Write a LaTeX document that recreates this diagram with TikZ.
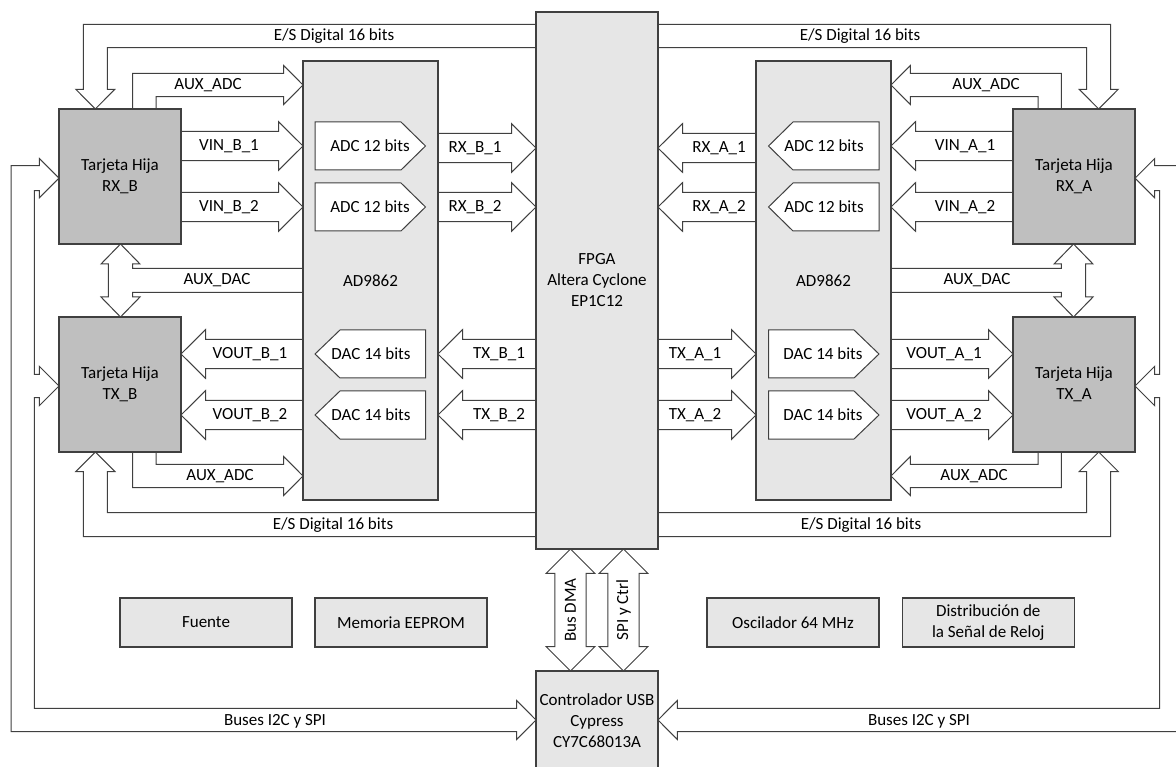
\documentclass[tikz,border=0pt]{standalone}
\usepackage{fontspec}
\setmainfont{Carlito}
\definecolor{lg}{HTML}{E6E6E6}
\definecolor{dg}{HTML}{BFBFBF}
\definecolor{ln}{HTML}{404040}
\newcommand\fsz{\fontsize{17}{21}\selectfont}
\tikzset{
 arr/.style={draw=ln, fill=white, line width=1pt, line join=miter},
 box/.style={draw=ln, line width=1.1pt, fill=lg, inner sep=0pt, align=center, font=\fsz},
 dbox/.style={box, fill=dg, minimum width=122pt, minimum height=135pt},
 pent/.style={draw=ln, fill=white, line width=1pt},
 lbl/.style={inner sep=0pt, font=\fsz, align=center},
}
% horizontal block arrow: tail x, tip x, centre y, head base x
\newcommand\HA[4]{%
 \filldraw[arr] (#1,#3-14.7) -- (#4,#3-14.7) -- (#4,#3-24.3) -- (#2,#3) -- (#4,#3+24.3) -- (#4,#3+14.7) -- (#1,#3+14.7);}
\newcommand\halfside[1]{%
 % E/S Digital top
 \filldraw[arr] (536,24.3) -- (83.3,24.3) -- (83.3,89.3) -- (75.8,89.3) -- (95.3,109) -- (114.8,89.3) -- (107.3,89.3) -- (107.3,47.7) -- (536,47.7);
 \node[lbl] (esT#1) at (334,36) {E/S Digital 16 bits};
 % E/S Digital bottom
 \filldraw[arr] (536,536.7) -- (83.3,536.7) -- (83.3,471.5) -- (75.8,471.5) -- (95.3,452) -- (114.8,471.5) -- (107.3,471.5) -- (107.3,512.7) -- (536,512.7);
 \node[lbl] (esB#1) at (333,525) {E/S Digital 16 bits};
 % AUX_ADC top
 \filldraw[arr] (132.7,109) -- (132.7,73.3) -- (283.7,73.3) -- (283.7,65.5) -- (303,85) -- (283.7,104.5) -- (283.7,96.7) -- (156,96.7) -- (156,109);
 \node[lbl] (auxT#1) at (208,85) {AUX\_ADC};
 % AUX_ADC bottom
 \filldraw[arr] (132.7,452) -- (132.7,487.7) -- (283.7,487.7) -- (283.7,495.5) -- (303,476) -- (283.7,456.5) -- (283.7,464.3) -- (156,464.3) -- (156,452);
 \node[lbl] (auxB#1) at (220,476) {AUX\_ADC};
 % AUX_DAC
 \filldraw[arr] (303,268.3) -- (132.7,268.3) -- (132.7,264) -- (140,264) -- (120.5,244) -- (101,264) -- (108.3,264) -- (108.3,297) -- (101,297) -- (120.5,317) -- (140,297) -- (132.7,297) -- (132.7,292.3) -- (303,292.3);
 \node[lbl] (auxD#1) at (217,280.5) {AUX\_DAC};
 % Buses I2C y SPI
 \filldraw[arr] (11,165.7) -- (39.3,165.7) -- (39.3,158.5) -- (59,178.2) -- (39.3,197.9) -- (39.3,190.7) -- (34.3,190.7) -- (34.3,374.3) -- (39.3,374.3) -- (39.3,366.3) -- (59,386) -- (39.3,405.7) -- (39.3,397.7) -- (34.3,397.7) -- (34.3,708.3) -- (516.7,708.3) -- (516.7,700.5) -- (536,720) -- (516.7,739.5) -- (516.7,731.7) -- (11,731.7) -- cycle;
 \node[lbl] (i2c#1) at (275,721) {Buses I2C y SPI};
 % data arrows
 \HA{181}{303}{146}{278.5}
 \HA{181}{303}{207}{278.5}
 \HA{438}{536}{148}{511.5}
 \HA{438}{536}{207}{511.5}
 \HA{536}{438}{354}{462.5}
 \HA{536}{438}{415}{462.5}
 \HA{303}{181}{354}{205.5}
 \HA{303}{181}{415}{205.5}
 \node[lbl] (vin1#1) at (229,146) {VIN\_#1\_1};
 \node[lbl] (vin2#1) at (229,207) {VIN\_#1\_2};
 \node[lbl] (rx1#1) at (475,148) {RX\_#1\_1};
 \node[lbl] (rx2#1) at (475,207) {RX\_#1\_2};
 \node[lbl] (tx1#1) at (499,354) {TX\_#1\_1};
 \node[lbl] (tx2#1) at (499,415) {TX\_#1\_2};
 \node[lbl] (vout1#1) at (250,354) {VOUT\_#1\_1};
 \node[lbl] (vout2#1) at (250,415) {VOUT\_#1\_2};
 % boxes
 \node[dbox] (RX#1) at (120,176.5) {Tarjeta Hija\\RX\_#1};
 \node[dbox] (TX#1) at (120,384.5) {Tarjeta Hija\\TX\_#1};
 \node[box, minimum width=135pt, minimum height=439pt] (AD#1) at (370.5,280.5) {AD9862};
 % ADC / DAC
 \filldraw[pent] (315,122) -- (401,122) -- (425.5,146) -- (401,170) -- (315,170) -- cycle;
 \filldraw[pent] (315,183) -- (401,183) -- (425.5,207) -- (401,231) -- (315,231) -- cycle;
 \filldraw[pent] (425.5,330) -- (340,330) -- (315,354) -- (340,378) -- (425.5,378) -- cycle;
 \filldraw[pent] (425.5,391) -- (340,391) -- (315,415) -- (340,439) -- (425.5,439) -- cycle;
 \node[lbl] (adc1#1) at (370,146) {ADC 12 bits};
 \node[lbl] (adc2#1) at (370,207) {ADC 12 bits};
 \node[lbl] (dac1#1) at (371,354) {DAC 14 bits};
 \node[lbl] (dac2#1) at (371,415) {DAC 14 bits};
}
\begin{document}
\begin{tikzpicture}[x=1pt,y=-1pt]
\useasboundingbox (0,0) rectangle (1176,767);
\clip (0,0) rectangle (1176,767);
\fill[white] (0,0) rectangle (1176,767);
\halfside{B}
\begin{scope}[shift={(1194,0)},xscale=-1]
\halfside{A}
\end{scope}
% Bus DMA and SPI y Ctrl
\filldraw[arr] (554.8,573.3) -- (546.2,573.3) -- (570.5,549) -- (594.8,573.3) -- (586.2,573.3) -- (586.2,646.7) -- (594.8,646.7) -- (570.5,671) -- (546.2,646.7) -- (554.8,646.7) -- cycle;
\filldraw[arr] (607.8,573.3) -- (599.2,573.3) -- (623.5,549) -- (647.8,573.3) -- (639.2,573.3) -- (639.2,646.7) -- (647.8,646.7) -- (623.5,671) -- (599.2,646.7) -- (607.8,646.7) -- cycle;
\node[lbl, rotate=90] (dma) at (570.5,610) {Bus DMA};
\node[lbl, rotate=90] (spi) at (623.5,610) {SPI y Ctrl};
% central boxes
\node[box, minimum width=122pt, minimum height=537pt] (FPGA) at (597,280.5) {FPGA\\Altera Cyclone\\EP1C12};
\node[box, minimum width=122pt, minimum height=100pt] (USB) at (597,721) {Controlador USB\\Cypress\\CY7C68013A};
\node[box, minimum width=172pt, minimum height=49pt] (fuente) at (206,622.5) {Fuente};
\node[box, minimum width=172pt, minimum height=49pt] (eeprom) at (401,622.5) {Memoria EEPROM};
\node[box, minimum width=172pt, minimum height=49pt] (osc) at (793,622.5) {Oscilador 64 MHz};
\node[box, minimum width=172pt, minimum height=49pt] (dist) at (988.3,622.5) {Distribución de\\la Señal de Reloj};
\end{tikzpicture}
\end{document}
